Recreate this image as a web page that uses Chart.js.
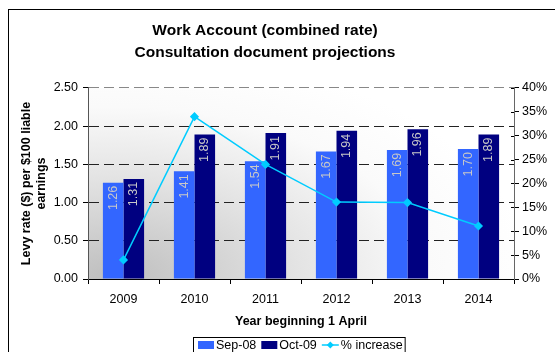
<!DOCTYPE html>
<html>
<head>
<meta charset="utf-8">
<script src="https://cdn.jsdelivr.net/npm/chart.js@4.4.1/dist/chart.umd.min.js"></script>
<style>
  html, body { margin: 0; padding: 0; background: #fff; }
  #wrap { width: 555px; height: 352px; }
</style>
</head>
<body>
<div id="wrap"><canvas id="c" width="555" height="352"></canvas></div>
<script>
const categories = ['2009', '2010', '2011', '2012', '2013', '2014'];
const sep08 = [1.26, 1.41, 1.54, 1.67, 1.69, 1.70];
const oct09 = [1.31, 1.89, 1.91, 1.94, 1.96, 1.89];
const pctIncrease = [4.0, 34.0, 24.0, 16.1, 16.0, 11.1];
const seriesNames = ['Sep-08', 'Oct-09', '% increase'];
const titleLines = ['Work Account (combined rate)', 'Consultation document projections'];
const yTitleLines = ['Levy rate ($) per $100 liable', 'earnings'];
const xTitle = 'Year beginning 1 April';

const FONT = "'Liberation Sans', Arial, Helvetica, sans-serif";
Chart.defaults.font.family = FONT;
Chart.defaults.color = '#000';

const bgPlugin = {
  id: 'bg',
  afterLayout(chart) {
    // centre the title over the framed area like the original
    if (chart.titleBlock) {
      chart.titleBlock.left = 8;
      chart.titleBlock.right = 522;
    }
  },
  beforeDraw(chart) {
    const ctx = chart.ctx;
    const a = chart.chartArea;
    ctx.save();
    ctx.fillStyle = '#fff';
    ctx.fillRect(0, 0, chart.width, chart.height);
    const cx = a.left + 25, cy = a.bottom;
    const rx = 420, ry = 230;
    ctx.beginPath();
    ctx.rect(a.left, a.top, a.right - a.left, a.bottom - a.top);
    ctx.clip();
    ctx.translate(cx, cy);
    ctx.scale(1, ry / rx);
    const g = ctx.createRadialGradient(0, 0, 0, 0, 0, rx);
    g.addColorStop(0, '#bebebe');
    g.addColorStop(0.45, '#e4e4e4');
    g.addColorStop(0.75, '#fafafa');
    g.addColorStop(1, '#ffffff');
    ctx.fillStyle = g;
    ctx.fillRect(-rx * 2, -rx * 2, rx * 4, rx * 4);
    ctx.restore();
  }
};

const labelPlugin = {
  id: 'barLabels',
  afterDatasetDraw(chart, args) {
    const meta = args.meta;
    if (meta.type !== 'bar') return;
    const ctx = chart.ctx;
    const ds = chart.data.datasets[args.index];
    ctx.save();
    ctx.font = '12.5px ' + FONT;
    ctx.fillStyle = '#c8c8c8';
    ctx.textAlign = 'right';
    ctx.textBaseline = 'middle';
    meta.data.forEach((bar, i) => {
      ctx.save();
      ctx.translate(bar.x, bar.y + 3);
      ctx.rotate(-Math.PI / 2);
      ctx.fillText(ds.data[i].toFixed(2), 0, 0);
      ctx.restore();
    });
    ctx.restore();
  }
};

const frameLegendPlugin = {
  id: 'frameLegend',
  afterDraw(chart) {
    const ctx = chart.ctx;
    ctx.save();
    // right axis ticks also cross inward
    const y1 = chart.scales.y1;
    ctx.strokeStyle = '#000';
    ctx.lineWidth = 1;
    y1.ticks.forEach(t => {
      const yy = Math.round(y1.getPixelForValue(t.value)) + 0.5;
      ctx.beginPath();
      ctx.moveTo(y1.left - 3, yy);
      ctx.lineTo(y1.left, yy);
      ctx.stroke();
    });
    // outer frame
    ctx.strokeRect(8.5, 9.5, 700, 500);
    // legend
    const ds = chart.data.datasets;
    ctx.font = '12.5px ' + FONT;
    ctx.textBaseline = 'middle';
    ctx.textAlign = 'left';
    const yMid = 345;
    let x = 198;
    const order = [1, 2, 0];
    order.forEach((di) => {
      const d = ds[di];
      if (d.type === 'line') {
        ctx.strokeStyle = d.borderColor;
        ctx.lineWidth = 1.5;
        ctx.beginPath();
        ctx.moveTo(x, yMid);
        ctx.lineTo(x + 17, yMid);
        ctx.stroke();
        ctx.fillStyle = d.borderColor;
        ctx.beginPath();
        const cx = x + 8.5;
        ctx.moveTo(cx, yMid - 3.5);
        ctx.lineTo(cx + 3.5, yMid);
        ctx.lineTo(cx, yMid + 3.5);
        ctx.lineTo(cx - 3.5, yMid);
        ctx.closePath();
        ctx.fill();
        x += 19;
      } else {
        ctx.fillStyle = d.backgroundColor;
        ctx.fillRect(x, yMid - 4, 16, 8);
        x += 18;
      }
      ctx.fillStyle = '#000';
      ctx.fillText(d.label, x, yMid + 0.5);
      x += ctx.measureText(d.label).width + 5;
    });
    const right = x - 3;
    ctx.strokeStyle = '#000';
    ctx.lineWidth = 1;
    ctx.strokeRect(193.5, 337.5, right - 193, 40);
    ctx.restore();
  }
};

new Chart(document.getElementById('c'), {
  type: 'bar',
  data: {
    labels: categories,
    datasets: [
      {
        type: 'line',
        label: seriesNames[2],
        data: pctIncrease,
        yAxisID: 'y1',
        borderColor: '#00CCFF',
        backgroundColor: '#00CCFF',
        borderWidth: 1.5,
        pointStyle: 'rectRot',
        pointRadius: 3.5,
        pointBackgroundColor: '#00CCFF',
        pointBorderColor: '#00CCFF',
        tension: 0,
        order: 0
      },
      {
        label: seriesNames[0],
        data: sep08,
        yAxisID: 'y',
        backgroundColor: '#3366FF',
        borderWidth: 0,
        categoryPercentage: 0.58,
        barPercentage: 1.0,
        order: 1
      },
      {
        label: seriesNames[1],
        data: oct09,
        yAxisID: 'y',
        backgroundColor: '#000080',
        borderWidth: 0,
        categoryPercentage: 0.58,
        barPercentage: 1.0,
        order: 1
      }
    ]
  },
  options: {
    responsive: false,
    animation: false,
    events: [],
    layout: { padding: { left: 8, right: 0, top: 0, bottom: 0 } },
    plugins: {
      legend: { display: false },
      tooltip: { enabled: false },
      title: {
        display: true,
        text: titleLines,
        color: '#000',
        font: { size: 15.5, weight: 'bold', lineHeight: 1.387 },
        padding: { top: 20.25, bottom: 24.75 }
      }
    },
    scales: {
      x: {
        offset: true,
        grid: { display: true, drawOnChartArea: false, drawTicks: true, tickLength: 5, color: '#000', offset: true },
        border: { display: true, color: '#000', width: 1 },
        ticks: { font: { size: 12.5 }, color: '#000', padding: 8, maxRotation: 0 },
        title: { display: true, text: xTitle, color: '#000', font: { size: 12.5, weight: 'bold', lineHeight: 1.2 }, padding: { top: 0, bottom: 23 } },
        afterFit(scale) { scale.height = 73; }
      },
      y: {
        position: 'left',
        min: 0, max: 2.5,
        ticks: { stepSize: 0.5, font: { size: 12.5 }, color: '#000', padding: 5, callback: v => Number(v).toFixed(2) },
        grid: {
          drawTicks: true, tickLength: 5,
          color: ctx => (ctx.tick && ctx.tick.value === 2.5) ? '#888' : '#222',
          tickColor: '#000', lineWidth: 1
        },
        border: { display: true, color: '#555', width: 1, dash: [10, 5] },
        title: { display: true, text: yTitleLines, color: '#000', font: { size: 12.5, weight: 'bold', lineHeight: 1.2 }, padding: { top: 11.5, bottom: 0 } },
        afterFit(scale) { scale.width = 80; }
      },
      y1: {
        position: 'right',
        min: 0, max: 40,
        ticks: { stepSize: 5, font: { size: 12.5 }, color: '#000', padding: 3, callback: v => v + '%' },
        grid: { drawOnChartArea: false, drawTicks: true, tickLength: 5, color: '#000' },
        border: { display: true, color: '#666', width: 1 },
        afterFit(scale) { scale.width = 41; }
      }
    }
  },
  plugins: [bgPlugin, labelPlugin, frameLegendPlugin]
});
</script>
</body>
</html>
